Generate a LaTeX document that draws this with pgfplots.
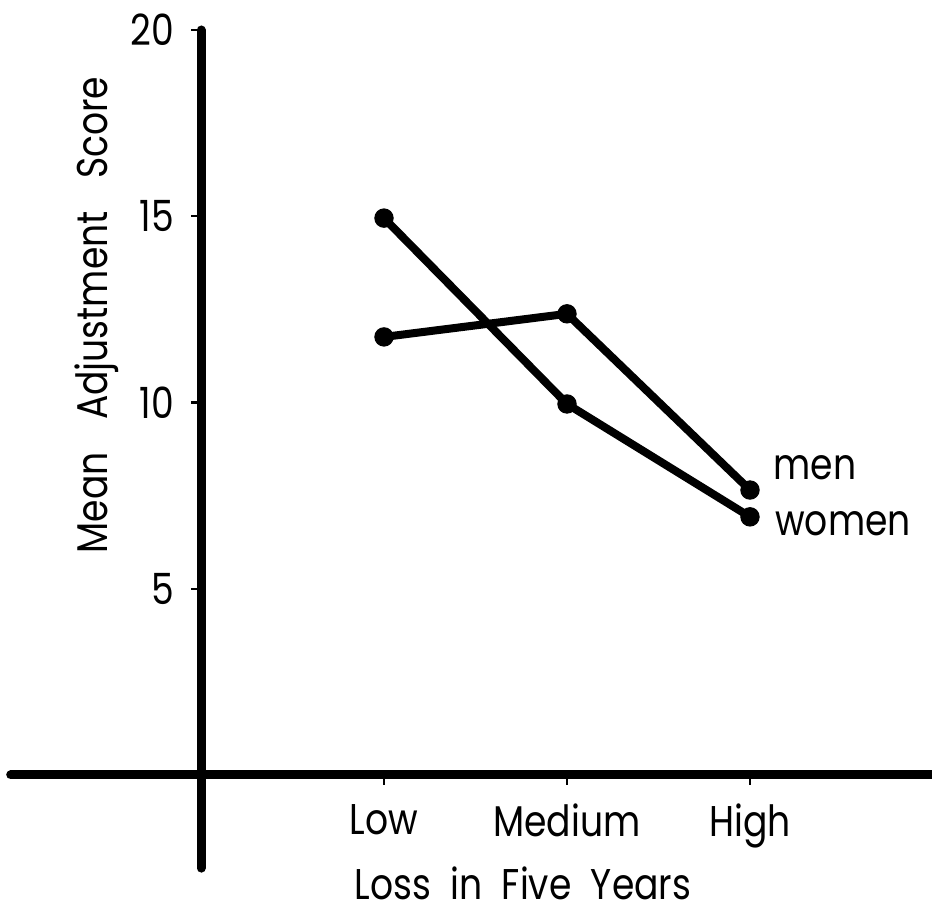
\documentclass[border=0pt]{standalone}
\usepackage{fontspec}
\setmainfont{Poppins}[FakeStretch=0.84]
\usepackage{pgfplots}
\pgfplotsset{compat=1.18}
\newcommand\bigf{\fontsize{21.5}{25}\selectfont}
\begin{document}
\begin{tikzpicture}
\path[use as bounding box] (0,0) rectangle (466pt,458pt);
\begin{axis}[at={(100.5pt,70.5pt)}, anchor=origin,
  x=91.5pt, y=18.625pt,
  xmin=-1.04, xmax=4, ymin=-2.5, ymax=20,
  axis lines=middle,
  every outer x axis line/.style={},
  every outer y axis line/.style={},
  axis line style={line width=4.5pt, line cap=round, -},
  xtick={1,2,3}, xticklabels={Low,Medium,High},
  ytick={5,10,15,20},
  tick align=outside, major tick length=5pt,
  tick style={line width=1.2pt, black},
  tick label style={font=\bigf},
  /pgf/number format/assume math mode=true,
  xticklabel style={yshift=-6pt},
  yticklabel style={xshift=-5pt},
  clip=false]
\addplot[black, line width=4pt, mark=*, mark size=4.6pt, mark options={solid, line width=0.5pt}]
  coordinates {(1,11.76) (2,12.38) (3,7.65)};
\addplot[black, line width=4pt, mark=*, mark size=4.6pt, mark options={solid, line width=0.5pt}]
  coordinates {(1,14.95) (2,9.96) (3,6.93)};
\node[anchor=base west, font=\bigf] at (axis cs:3.09,7.92) {men};
\node[anchor=base west, font=\bigf] at (axis cs:3.10,6.44) {women};
\end{axis}
\node[rotate=90, font=\bigf] at (48.5pt,300.5pt) {Mean\hspace{0.75em}Adjustment\hspace{0.75em}Score};
\node[font=\bigf, anchor=base, inner sep=0pt] at (261.5pt,8.5pt) {Loss\ \ in\ \ Five\ \ Years};
\end{tikzpicture}
\end{document}
